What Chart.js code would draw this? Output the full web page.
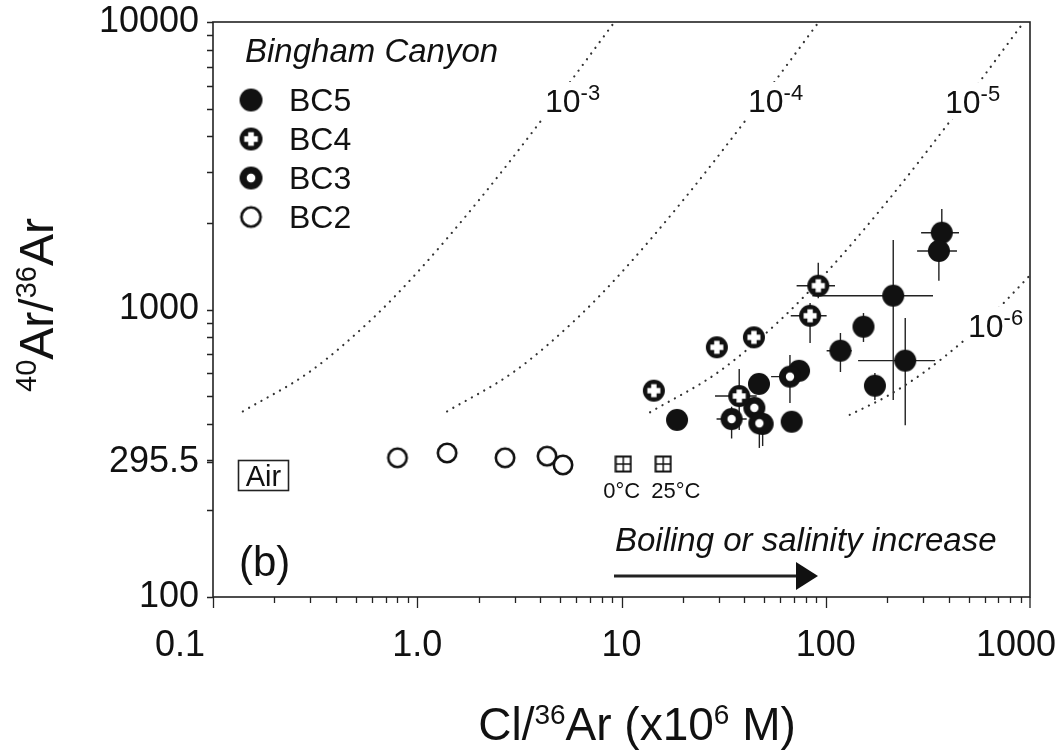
<!DOCTYPE html>
<html>
<head>
<meta charset="utf-8">
<script src="https://cdn.jsdelivr.net/npm/chart.js@4.4.1/dist/chart.umd.min.js"></script>
<style>
  html, body { margin: 0; padding: 0; background: #fff; }
  #wrap { width: 1063px; height: 753px; }
</style>
</head>
<body>
<div id="wrap"><canvas id="argonChart" width="1063" height="753"></canvas></div>
<script>
// values: x = Cl/36Ar (x10^6 M), y = 40Ar/36Ar
const bc5X = [18.7, 47.1, 74.0, 49.1, 68.1, 118, 153, 214, 245, 174, 370, 358];
const bc5Y = [413, 551, 612, 400, 407, 719, 871, 1117, 664, 543, 1850, 1598];
const bc5XErr = [null, null, null, null, null, [101, 134], null, [86, 335], [144, 343], null, [293, 449], [280, 439]];
const bc5YErr = [null, null, null, [335, 400], null, [606, 828], [771, 972], [484, 1745], [396, 934], [484, 601], [1850, 2237], [1260, 1598]];

const bc4X = [14.4, 29.3, 44.5, 83.8, 91.9, 37.7];
const bc4Y = [522, 739, 800, 951, 1210, 500];
const bc4XErr = [null, null, null, [67.4, 101], [72, 111], [28.7, 45.9]];
const bc4YErr = [null, null, null, [765, 1053], [1094, 1455], [381, 621]];

const bc3X = [34.6, 44.7, 47.3, 66.8];
const bc3Y = [416, 455, 402, 584];
const bc3XErr = [[29.2, 41.0], null, null, [54, 66.8]];
const bc3YErr = [[356, 459], null, [330, 402], [473, 694]];

const bc2X = [0.80, 1.40, 2.69, 4.32, 5.17];
const bc2Y = [305, 317, 305, 309, 288];

const tempX = [10.2, 16.0];
const tempY = [290, 290];
const tempLabels = ['0°C', '25°C'];

// dotted isolines, points
const iso3X = [0.14, 0.3, 0.6, 1.0, 2.0, 4.0, 9.24];
const iso3Y = [442, 610, 926, 1346, 2396, 4496, 10000];
const iso4X = [1.4, 3, 6, 10, 20, 40, 92.4];
const iso4Y = [442, 610, 926, 1346, 2396, 4496, 10000];
const iso5X = [13.8, 30, 60, 100, 200, 400, 933];
const iso5Y = [439, 608, 920, 1336, 2376, 4456, 10000];
const iso6X = [131, 200, 300, 500, 700, 1000];
const iso6Y = [430, 500, 602, 805, 1009, 1315];
const isoLabels = ['-3', '-4', '-5', '-6'];

const xTicks = [0.1, 1, 10, 100, 1000];
const xTickLabels = ['0.1', '1.0', '10', '100', '1000'];
const yTicks = [100, 295.5, 1000, 10000];
const yTickLabels = ['100', '295.5', '1000', '10000'];

const FONT = "'Liberation Sans', Arial, Helvetica, sans-serif";
const INK = '#111';

function makeMarker(kind) {
  const c = document.createElement('canvas');
  const s = kind === 'square' ? 18 : 24;
  c.width = s; c.height = s;
  const g = c.getContext('2d');
  const m = s / 2;
  g.fillStyle = INK;
  g.strokeStyle = INK;
  if (kind === 'square') {
    g.lineWidth = 2;
    g.fillStyle = '#fff';
    g.fillRect(1.5, 1.5, 15, 15);
    g.strokeRect(1.5, 1.5, 15, 15);
    g.lineWidth = 1.5;
    g.beginPath();
    g.moveTo(m, 2); g.lineTo(m, 16);
    g.moveTo(2, m); g.lineTo(16, m);
    g.stroke();
    return c;
  }
  if (kind === 'open') {
    g.lineWidth = 2.6;
    g.fillStyle = '#fff';
    g.beginPath();
    g.arc(m, m, 9.2, 0, Math.PI * 2);
    g.fill();
    g.stroke();
    return c;
  }
  g.beginPath();
  g.arc(m, m, 11, 0, Math.PI * 2);
  g.fill();
  g.fillStyle = '#fff';
  if (kind === 'cross') {
    g.fillRect(m - 2.7, m - 6.5, 5.4, 13);
    g.fillRect(m - 6.5, m - 2.7, 13, 5.4);
  } else if (kind === 'dot') {
    g.beginPath();
    g.arc(m, m, 4.2, 0, Math.PI * 2);
    g.fill();
  }
  return c;
}

const mk = {
  bc5: makeMarker('solid'),
  bc4: makeMarker('cross'),
  bc3: makeMarker('dot'),
  bc2: makeMarker('open'),
  temp: makeMarker('square')
};

const pts = (xs, ys) => xs.map((x, i) => ({ x: x, y: ys[i] }));

function markerSet(label, xs, ys, img, order) {
  return {
    label: label,
    data: pts(xs, ys),
    pointStyle: img,
    pointRadius: 11,
    order: order
  };
}

function isoline(xs, ys) {
  return {
    label: 'iso',
    data: pts(xs, ys),
    showLine: true,
    borderColor: '#333',
    borderWidth: 2.2,
    borderDash: [0.1, 7],
    borderCapStyle: 'round',
    pointRadius: 0,
    cubicInterpolationMode: 'monotone',
    fill: false,
    order: 10
  };
}

const errSets = [
  [bc5X, bc5Y, bc5XErr, bc5YErr],
  [bc4X, bc4Y, bc4XErr, bc4YErr],
  [bc3X, bc3Y, bc3XErr, bc3YErr]
];

function richWidth(ctx, parts) {
  let w = 0;
  parts.forEach(p => { ctx.font = p.font; w += ctx.measureText(p.t).width; });
  return w;
}

function drawRich(ctx, x, y, parts) {
  let cx = x;
  parts.forEach(p => {
    ctx.font = p.font;
    ctx.fillText(p.t, cx, y - (p.rise || 0));
    cx += ctx.measureText(p.t).width;
  });
}

const decor = {
  id: 'decor',
  beforeDatasetsDraw(chart) {
    const ctx = chart.ctx;
    const xs = chart.scales.x, ys = chart.scales.y;
    const a = chart.chartArea;
    ctx.save();
    ctx.beginPath();
    ctx.rect(a.left, a.top, a.right - a.left, a.bottom - a.top);
    ctx.clip();
    ctx.strokeStyle = '#222';
    ctx.lineWidth = 1.4;
    errSets.forEach(([xv, yv, xe, ye]) => {
      xv.forEach((x, i) => {
        const px = xs.getPixelForValue(x), py = ys.getPixelForValue(yv[i]);
        ctx.beginPath();
        if (xe[i]) {
          ctx.moveTo(xs.getPixelForValue(xe[i][0]), py);
          ctx.lineTo(xs.getPixelForValue(xe[i][1]), py);
        }
        if (ye[i]) {
          ctx.moveTo(px, ys.getPixelForValue(ye[i][0]));
          ctx.lineTo(px, ys.getPixelForValue(ye[i][1]));
        }
        ctx.stroke();
      });
    });
    ctx.restore();
  },
  afterDraw(chart) {
    const ctx = chart.ctx;
    const xs = chart.scales.x, ys = chart.scales.y;
    const a = chart.chartArea;
    ctx.save();

    // isoline labels sit on a white patch that breaks the dotted line
    const isoPos = [[545, 112], [748, 112], [945, 113], [968, 337]];
    isoPos.forEach(([x, y], i) => {
      const parts = [
        { t: '10', font: '32px ' + FONT },
        { t: isoLabels[i], font: '22px ' + FONT, rise: 12 }
      ];
      ctx.fillStyle = '#fff';
      ctx.fillRect(x - 4, y - 30, richWidth(ctx, parts) + 8, 36);
      ctx.fillStyle = INK;
      drawRich(ctx, x, y, parts);
    });

    // frame
    ctx.strokeStyle = '#222';
    ctx.lineWidth = 1.6;
    ctx.strokeRect(a.left, a.top, a.right - a.left, a.bottom - a.top);

    // tick marks
    ctx.lineWidth = 1.3;
    ctx.beginPath();
    for (let d = -1; d < 3; d++) {
      for (let k = 1; k < 10; k++) {
        const v = k * Math.pow(10, d);
        const px = Math.round(xs.getPixelForValue(v)) + 0.5;
        ctx.moveTo(px, a.bottom);
        ctx.lineTo(px, a.bottom + (k === 1 ? 11 : 6));
      }
    }
    ctx.moveTo(a.right, a.bottom);
    ctx.lineTo(a.right, a.bottom + 11);
    for (let d = 2; d < 4; d++) {
      for (let k = 1; k < 10; k++) {
        const py = Math.round(ys.getPixelForValue(k * Math.pow(10, d))) + 0.5;
        ctx.moveTo(a.left, py);
        ctx.lineTo(a.left - 6, py);
      }
    }
    [295.5, 10000].forEach(v => {
      const py = Math.round(ys.getPixelForValue(v)) + 0.5;
      ctx.moveTo(a.left, py);
      ctx.lineTo(a.left - 6, py);
    });
    ctx.stroke();

    ctx.fillStyle = INK;

    // x tick labels (the end labels sit pulled in, as in the original)
    ctx.font = '36px ' + FONT;
    ctx.textAlign = 'center';
    ctx.textBaseline = 'alphabetic';
    const xShift = [-33, 0, 0, 0, -14];
    xTicks.forEach((v, i) => {
      ctx.fillText(xTickLabels[i], xs.getPixelForValue(v) + xShift[i], 656);
    });
    ctx.textAlign = 'left';

    // axis titles
    const big = '46px ' + FONT, sup = '28px ' + FONT;
    const xt = [
      { t: 'Cl/', font: big }, { t: '36', font: sup, rise: 16 },
      { t: 'Ar (x10', font: big }, { t: '6', font: sup, rise: 16 },
      { t: ' M)', font: big }
    ];
    drawRich(ctx, 637 - richWidth(ctx, xt) / 2, 740, xt);
    const ybig = '48px ' + FONT, ysup = '29px ' + FONT;
    const yt = [
      { t: '40', font: ysup, rise: 17 }, { t: 'Ar/', font: ybig },
      { t: '36', font: ysup, rise: 17 }, { t: 'Ar', font: ybig }
    ];
    ctx.save();
    ctx.translate(53, 305);
    ctx.rotate(-Math.PI / 2);
    drawRich(ctx, -richWidth(ctx, yt) / 2, 0, yt);
    ctx.restore();

    // legend
    ctx.font = 'italic 33px ' + FONT;
    ctx.fillText('Bingham Canyon', a.left + 32, a.top + 40);
    const legendRows = [['BC5', mk.bc5], ['BC4', mk.bc4], ['BC3', mk.bc3], ['BC2', mk.bc2]];
    ctx.font = '32px ' + FONT;
    ctx.textBaseline = 'middle';
    legendRows.forEach(([name, img], i) => {
      const cy = a.top + 78 + i * 39;
      ctx.drawImage(img, a.left + 38 - 12.5, cy - 12.5, 25, 25);
      ctx.fillText(name, a.left + 76, cy + 2);
    });

    // temperature labels under the squares
    ctx.textBaseline = 'alphabetic';
    ctx.font = '22px ' + FONT;
    const tShift = [-20, -12];
    tempX.forEach((x, i) => {
      ctx.fillText(tempLabels[i], xs.getPixelForValue(x) + tShift[i], ys.getPixelForValue(tempY[i]) + 34);
    });

    // Air box
    ctx.textAlign = 'center';
    ctx.lineWidth = 1.6;
    ctx.strokeRect(a.left + 25.5, 460.5, 50, 30);
    ctx.font = '29px ' + FONT;
    ctx.fillText('Air', a.left + 50.5, 486);

    // panel tag
    ctx.textAlign = 'left';
    ctx.font = '42px ' + FONT;
    ctx.fillText('(b)', a.left + 26, 576);

    // boiling arrow
    ctx.font = 'italic 33px ' + FONT;
    ctx.fillText('Boiling or salinity increase', 615, 551);
    ctx.lineWidth = 3.2;
    ctx.beginPath();
    ctx.moveTo(614, 576);
    ctx.lineTo(798, 576);
    ctx.stroke();
    ctx.beginPath();
    ctx.moveTo(796, 562);
    ctx.lineTo(818, 576);
    ctx.lineTo(796, 590);
    ctx.closePath();
    ctx.fill();

    ctx.restore();
  }
};

const tickFont = { family: FONT, size: 36 };

new Chart(document.getElementById('argonChart'), {
  type: 'scatter',
  data: {
    datasets: [
      markerSet('Temp', tempX, tempY, mk.temp, 1),
      markerSet('BC2', bc2X, bc2Y, mk.bc2, 2),
      markerSet('BC4', bc4X, bc4Y, mk.bc4, 3),
      markerSet('BC3', bc3X, bc3Y, mk.bc3, 4),
      markerSet('BC5', bc5X, bc5Y, mk.bc5, 5),
      isoline(iso3X, iso3Y),
      isoline(iso4X, iso4Y),
      isoline(iso5X, iso5Y),
      isoline(iso6X, iso6Y)
    ]
  },
  options: {
    responsive: false,
    animation: false,
    devicePixelRatio: 1,
    layout: { padding: { top: 22, right: 33, bottom: 0, left: 0 } },
    plugins: {
      legend: { display: false },
      tooltip: { enabled: false }
    },
    scales: {
      x: {
        type: 'logarithmic',
        min: 0.1,
        max: 1000,
        grid: { display: false, drawTicks: false },
        border: { display: false },
        afterBuildTicks: (s) => { s.ticks = xTicks.map(v => ({ value: v })); },
        afterFit: (s) => { s.height = 156; s.paddingLeft = 0; s.paddingRight = 0; },
        ticks: { display: false, autoSkip: false, maxRotation: 0 }
      },
      y: {
        type: 'logarithmic',
        min: 100,
        max: 10000,
        grid: { display: false, drawTicks: false },
        border: { display: false },
        afterBuildTicks: (s) => { s.ticks = yTicks.map(v => ({ value: v })); },
        afterFit: (s) => { s.width = 213; s.paddingTop = 0; s.paddingBottom = 0; },
        ticks: {
          autoSkip: false,
          padding: 14,
          color: INK,
          font: tickFont,
          callback: (v, i) => yTickLabels[i]
        }
      }
    }
  },
  plugins: [decor]
});
</script>
</body>
</html>
